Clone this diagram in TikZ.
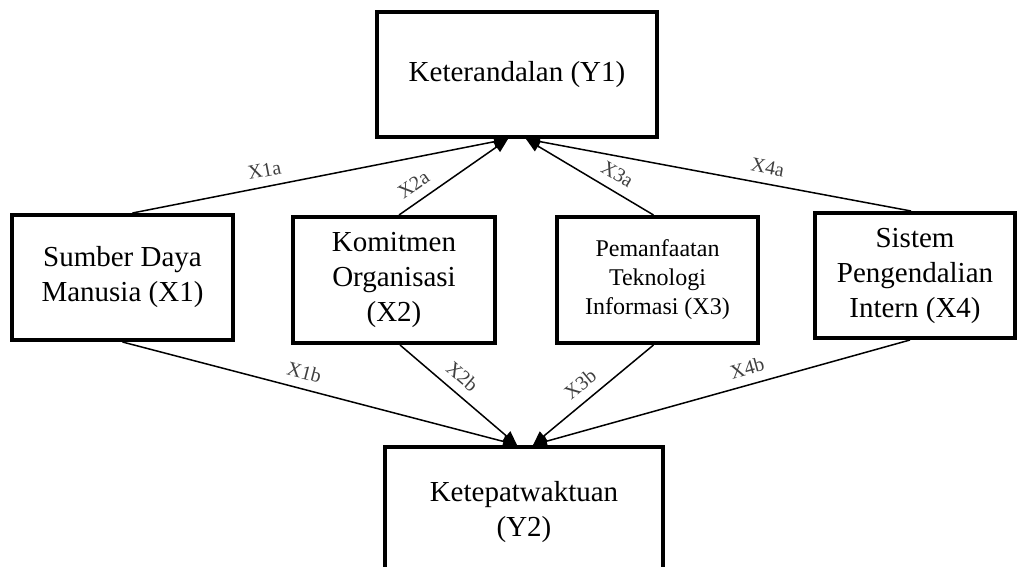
\documentclass[tikz,border=0pt]{standalone}
\usepackage{fontspec}
\setmainfont{Liberation Serif}
\usetikzlibrary{arrows.meta}

\begin{document}
\begin{tikzpicture}[x=1pt,y=-1pt,
  varbox/.style={draw,line width=4pt,align=center,inner sep=0pt,
                 font=\fontsize{29}{35}\selectfont},
  link/.style={line width=1.5pt,-{Triangle[length=14pt,width=12pt]}},
  coef/.style={font=\fontsize{20}{22}\selectfont,text=black!75,
               sloped,above=6pt,inner sep=3pt}]

  \clip (0,0) rectangle (1019,567);

  % dependent variables
  \node[varbox,minimum width=280pt,minimum height=125pt] (Y1) at (517,74.5)
    {Keterandalan (Y1)};
  \node[varbox,minimum width=278pt,minimum height=130pt] (Y2) at (524,512)
    {Ketepatwaktuan\\(Y2)};

  % independent variables
  \node[varbox,minimum width=221pt,minimum height=125pt] (X1) at (122.5,277.5)
    {Sumber Daya\\Manusia (X1)};
  \node[varbox,minimum width=202pt,minimum height=126pt] (X2) at (394,280)
    {Komitmen\\Organisasi\\(X2)};
  \node[varbox,minimum width=201pt,minimum height=126pt,
        font=\fontsize{24}{29}\selectfont] (X3) at (657.5,280)
    {Pemanfaatan\\Teknologi\\Informasi (X3)};
  \node[varbox,minimum width=200pt,minimum height=125pt] (X4) at (915,275.5)
    {Sistem\\Pengendalian\\Intern (X4)};

  % arrow ends
  \coordinate (Y1l) at ([xshift=-9pt]Y1.south);
  \coordinate (Y1r) at ([xshift=9pt]Y1.south);
  \coordinate (Y2l) at ([xshift=-7pt]Y2.north);
  \coordinate (Y2r) at ([xshift=9pt]Y2.north);

  % paths to Y1
  \draw[link] ([xshift=10pt]X1.north) -- node[coef,pos=0.36] {X1a} (Y1l);
  \draw[link] ([xshift=5pt]X2.north)  -- node[coef,pos=0.22] {X2a} (Y1l);
  \draw[link] ([xshift=-4pt]X3.north) -- node[coef,pos=0.35] {X3a} (Y1r);
  \draw[link] ([xshift=-4pt]X4.north) -- node[coef,pos=0.38] {X4a} (Y1r);

  % paths to Y2
  \draw[link] (X1.south)               -- node[coef,pos=0.45] {X1b} (Y2l);
  \draw[link] ([xshift=6pt]X2.south)  -- node[coef,pos=0.44] {X2b} (Y2l);
  \draw[link] ([xshift=-4pt]X3.south) -- node[coef,pos=0.52] {X3b} (Y2r);
  \draw[link] ([xshift=-5pt]X4.south) -- node[coef,pos=0.42] {X4b} (Y2r);
\end{tikzpicture}
\end{document}
